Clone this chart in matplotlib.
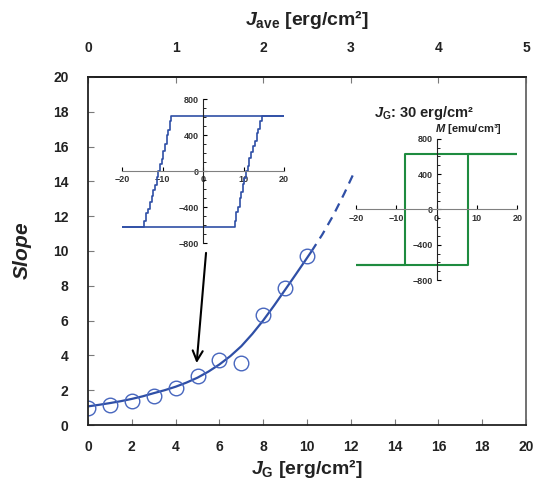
import numpy as np
import matplotlib
matplotlib.use("Agg")
import matplotlib.pyplot as plt

plt.rcParams['font.family'] = ['Liberation Sans', 'DejaVu Sans']
plt.rcParams['font.weight'] = 'bold'
plt.rcParams['axes.labelweight'] = 'bold'
plt.rcParams['mathtext.fontset'] = 'custom'
plt.rcParams['mathtext.rm'] = 'Liberation Sans:bold'
plt.rcParams['mathtext.it'] = 'Liberation Sans:bold:italic'
plt.rcParams['mathtext.bf'] = 'Liberation Sans:bold'

# measured slope vs J_G
jg = [0, 1, 2, 3, 4, 5, 6, 7, 8, 9, 10]
slope = [0.95, 1.16, 1.39, 1.68, 2.10, 2.82, 3.71, 3.58, 6.30, 7.90, 9.71]

# fitted curve (solid part) and its extrapolation (dashed)
fit_x = [0, 0.5, 1, 1.5, 2, 2.5, 3, 3.5, 4, 4.5, 5, 5.5, 6, 6.5, 7, 7.5, 8, 8.5,
         9, 9.5, 10, 10.2]
fit_y = [1.07, 1.16, 1.26, 1.37, 1.50, 1.65, 1.83, 2.00, 2.20, 2.44, 2.72, 3.07,
         3.48, 3.96, 4.53, 5.23, 6.01, 6.87, 7.77, 8.68, 9.60, 9.97]
ext_x = [10.2, 10.7, 11.2, 11.7, 12.2]
ext_y = [9.97, 10.95, 12.05, 13.3, 14.65]

# hysteresis loop, J_G = 5 (staircase edges)
loop_up_x = [-14.6, -14.0, -13.6, -13.2, -12.7, -12.3, -11.9, -11.4, -11.0, -10.6,
             -10.2, -9.8, -9.4, -9.0, -8.6, -8.2, -7.8, -7.5]
loop_up_y = [-620, -560, -470, -420, -340, -280, -210, -150, -60, 0,
             80, 140, 230, 300, 400, 460, 560, 620]
# square loop, J_G = 30
sq_hc = 7.7
sq_ms = 625

blue = '#2F4FA6'
green = '#1E8B3F'

fig = plt.figure(figsize=(5.35, 4.87), dpi=100)
ax = fig.add_axes([0.1645, 0.1273, 0.8187, 0.7146])

ax.plot(fit_x, fit_y, color=blue, lw=1.6)
ax.plot(ext_x, ext_y, color=blue, lw=1.6, ls=(0, (4, 3)))
ax.plot(jg, slope, 'o', ms=10.5, mfc='none', mec='#4766BE', mew=1.0)
ax.annotate('', xy=(4.95, 3.4), xytext=(5.4, 10.05),
            arrowprops=dict(arrowstyle='->', color='black', lw=1.5, mutation_scale=18))

ax.set_xlim(0, 20)
ax.set_ylim(0, 20)
ax.set_xticks(range(0, 21, 2))
ax.set_yticks(range(0, 21, 2))
ax.tick_params(axis='x', direction='in', length=4, width=0.8, labelsize=10, pad=11,
               colors='#7a7a7a', labelcolor='#222222', top=False)
ax.tick_params(axis='y', direction='in', length=4, width=0.8, labelsize=10, pad=14,
               colors='#7a7a7a', labelcolor='#222222', right=False)
for s in ax.spines.values():
    s.set_linewidth(1.3)
    s.set_color('#222222')
ax.spines['right'].set_color('#666666')
ax.set_xlabel('$J_\\mathrm{G}$ [erg/cm²]', fontsize=14, labelpad=2, color='#222222')
ax.set_ylabel('$\\mathit{Slope}$', fontsize=15, labelpad=14, color='#222222')

top = ax.secondary_xaxis('top', functions=(lambda x: x / 4, lambda x: x * 4))
top.set_xticks(range(0, 6))
top.tick_params(direction='in', length=4, width=0.8, labelsize=10, pad=16, colors='#7a7a7a',
                labelcolor='#222222')
top.spines['top'].set_linewidth(1.3)
top.set_xlabel('$J_\\mathrm{ave}$ [erg/cm²]', fontsize=14, labelpad=11, color='#222222')


def loop_axes(rect):
    a = fig.add_axes(rect)
    a.patch.set_alpha(0)
    a.set_xlim(-20, 20)
    a.set_ylim(-800, 800)
    a.spines['left'].set_position('zero')
    a.spines['bottom'].set_position('zero')
    a.spines['top'].set_visible(False)
    a.spines['right'].set_visible(False)
    a.spines['left'].set_color('#222222')
    a.spines['bottom'].set_color('#808080')
    a.set_xticks([-20, -10, 0, 10, 20])
    a.set_yticks([-800, -400, 0, 400, 800])
    a.set_yticks(range(-800, 801, 100), minor=True)
    a.tick_params(axis='both', direction='in', length=3, width=0.8, labelsize=6.5,
                  labelcolor='#333333', pad=3)
    a.tick_params(axis='y', which='minor', direction='in', length=2, width=0.6)
    return a


ax1 = loop_axes([0.228, 0.501, 0.303, 0.295])
ux = np.array(loop_up_x)
uy = np.array(loop_up_y)
ax1.plot(np.r_[-20, ux, 20], np.r_[-620, uy, 620], color=blue, lw=1.2, drawstyle='steps-pre')
ax1.plot(np.r_[20, -ux, -20], np.r_[620, -uy, -620], color=blue, lw=1.2, drawstyle='steps-pre')

ax2 = loop_axes([0.665, 0.425, 0.302, 0.290])
ax2.plot([-20, sq_hc, sq_hc, 20], [-sq_ms, -sq_ms, sq_ms, sq_ms], color=green, lw=1.5)
ax2.plot([20, -sq_hc, -sq_hc, -20], [sq_ms, sq_ms, -sq_ms, -sq_ms], color=green, lw=1.5)
fig.text(0.792, 0.768, '$J_\\mathrm{G}$: 30 erg/cm²', fontsize=10.5, ha='center', va='center',
         color='#222222')
fig.text(0.875, 0.735, '$M$ [emu/cm³]', fontsize=8, ha='center', va='center',
         color='#222222')

fig.savefig('out.png', dpi=100)
